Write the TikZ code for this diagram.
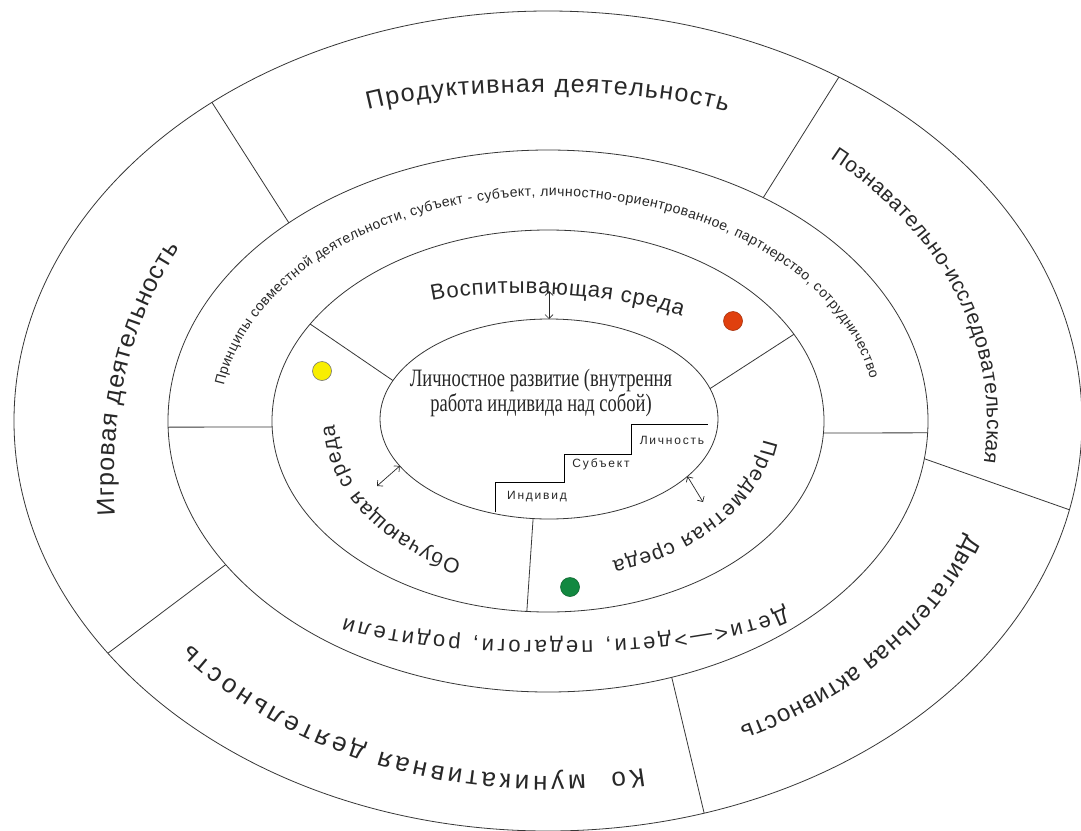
\documentclass[tikz,border=0pt]{standalone}
\usepackage{fontspec}
\setmainfont{Liberation Sans}
\newfontfamily\condserif[FakeStretch=0.74]{Liberation Serif}
\usetikzlibrary{calc,decorations.text,arrows.meta}
\definecolor{ink}{RGB}{40,40,40}
\definecolor{linec}{RGB}{55,55,55}
\definecolor{dotyellow}{RGB}{248,238,0}
\definecolor{dotred}{RGB}{224,64,14}
\definecolor{dotgreen}{RGB}{18,136,64}
\begin{document}
\begin{tikzpicture}[x=1pt,y=-1pt,
  ring/.style={draw=linec,line width=0.8pt},
  divider/.style={draw=linec,line width=0.8pt},
  alongtext/.style={decorate,decoration={text along path,text align={fit to path},text color=ink,text={#1}}},
  twoway/.style={draw=ink,line width=0.7pt,{Straight Barb[length=4pt,width=8pt]}-{Straight Barb[length=4pt,width=8pt]}},
  dot/.style={circle,minimum size=19pt,inner sep=0pt,line width=0.6pt},
  stair/.style={draw=black,line width=0.8pt},
  steplabel/.style={font=\fontsize{12}{14}\selectfont\addfontfeature{LetterSpace=15},text=ink},
]
\useasboundingbox (0,0) rectangle (1081,830);
\fill[white] (0,0) rectangle (1081,830);

\coordinate (C) at (548,421);
\coordinate (Ci) at (549,419);

% rings
\draw[ring] (C) ellipse [x radius=534, y radius=410];
\draw[ring] (C) ellipse [x radius=380, y radius=271];
\draw[ring] (C) ellipse [x radius=276, y radius=191];
\draw[ring] (Ci) ellipse [x radius=169, y radius=100];

% divider points
\coordinate (oTL) at ($(C)+(231:534 and 410)$);
\coordinate (mTL) at ($(C)+(227:380 and 271)$);
\coordinate (oTR) at ($(C)+(303:534 and 410)$);
\coordinate (mTR) at ($(C)+(304.5:380 and 271)$);
\coordinate (oR) at ($(C)+(12.5:534 and 410)$);
\coordinate (mR) at ($(C)+(8:380 and 271)$);
\coordinate (oBR) at ($(C)+(73:534 and 410)$);
\coordinate (mBR) at ($(C)+(71:380 and 271)$);
\coordinate (oBL) at ($(C)+(145.5:534 and 410)$);
\coordinate (mBL) at ($(C)+(148:380 and 271)$);
\coordinate (mL) at ($(C)+(178.7:380 and 271)$);
\coordinate (rL) at ($(C)+(178.2:276 and 191)$);
\coordinate (mRh) at ($(C)+(2.5:380 and 271)$);
\coordinate (rRh) at ($(C)+(3.6:276 and 191)$);
\coordinate (rUL) at ($(C)+(210.5:276 and 191)$);
\coordinate (iUL) at ($(Ci)+(202.6:169 and 100)$);
\coordinate (rUR) at ($(C)+(333:276 and 191)$);
\coordinate (iUR) at ($(Ci)+(342.3:169 and 100)$);
\coordinate (rB) at ($(C)+(94.4:276 and 191)$);
\coordinate (iB) at ($(Ci)+(95.4:169 and 100)$);

\draw[divider] (oTL) -- (mTL);
\draw[divider] (oTR) -- (mTR);
\draw[divider] (oR) -- (mR);
\draw[divider] (oBR) -- (mBR);
\draw[divider] (oBL) -- (mBL);
\draw[divider] (mL) -- (rL);
\draw[divider] (mRh) -- (rRh);
\draw[divider] (rUL) -- (iUL);
\draw[divider] (rUR) -- (iUR);
\draw[divider] (rB) -- (iB);

% outer ring texts
\path[alongtext={|\fontsize{25}{30}\selectfont|Продуктивная деятельность}] (368,110) .. controls (460,86) and (640,86) .. (727,112);
\path[alongtext={|\fontsize{21}{25}\selectfont|Познавательно-исследовательская}] ($(C)+(310:439 and 342)$) arc[start angle=310,end angle=367,x radius=439,y radius=342];
\path[alongtext={|\fontsize{24}{28}\selectfont|Двигательная активность}] ($(C)+(19.5:445 and 339)$) arc[start angle=19.5,end angle=64.5,x radius=445,y radius=339];
\path[alongtext={|\fontsize{26}{30}\selectfont|Ко{\hspace{18pt}}муникативная деятельность}] ($(C)+(78:460 and 355)$) arc[start angle=78,end angle=141,x radius=460,y radius=355];
\path[alongtext={|\fontsize{25}{30}\selectfont|Игровая деятельность}] (115,515) .. controls (108,420) and (130,320) .. (180,248);

% middle ring texts
\path[alongtext={|\fontsize{14}{16}\selectfont|Принципы совместной деятельности, субъект - субъект, личностно-ориентрованное, партнерство, сотрудничество}] ($(C)+(189:328 and 225)$) arc[start angle=189,end angle=349,x radius=328,y radius=225];
\path[alongtext={|\fontsize{22}{26}\selectfont|Дети<—>дети, педагоги, родители}] (785,607) .. controls (700,650) and (450,650) .. (345,618);

% inner ring texts
\path[alongtext={|\fontsize{22}{26}\selectfont|Воспитывающая среда}] (432,301) .. controls (480,290) and (600,288) .. (682,316);
\path[alongtext={|\fontsize{21}{25}\selectfont|Предметная среда}] ($(Ci)+(8:216.6 and 148.5)$) arc[start angle=8,end angle=73,x radius=216.6,y radius=148.5];
\path[alongtext={|\fontsize{21}{25}\selectfont|Обучающая среда}] ($(Ci)+(114:214.6 and 155.7)$) arc[start angle=114,end angle=178,x radius=214.6,y radius=155.7];

% centre
\node[font=\condserif\fontsize{25}{23}\selectfont,align=center,text=black!85,inner sep=0pt] (title) at (541,393) {Личностное развитие (внутрення\\работа индивида над собой)};

\coordinate (s0) at (495,512);
\coordinate (s1) at (564,482);
\coordinate (s2) at (631,454);
\coordinate (s3) at (708,424);
\draw[stair] (s0) |- (s1) |- (s2) |- (s3);
\node[steplabel] (lind) at (537,497) {Индивид};
\node[steplabel] (lsub) at (601,464) {Субъект};
\node[steplabel] (lper) at (672,440) {Личность};

% arrows
\coordinate (at1) at (549,291);
\coordinate (at2) at ($(Ci)+(270:169 and 100)$);
\draw[twoway] (at1) -- (at2);
\coordinate (al1) at ($(Ci)+(152:169 and 100)$);
\coordinate (al2) at (377,486);
\draw[twoway] (al1) -- (al2);
\coordinate (ar1) at ($(Ci)+(35:169 and 100)$);
\coordinate (ar2) at (703,502);
\draw[twoway] (ar1) -- (ar2);

% dots
\node[dot,fill=dotyellow,draw=black!55] (yellowdot) at (322,371) {};
\node[dot,fill=dotred,draw=dotred!75!black] (reddot) at (733,321) {};
\node[dot,fill=dotgreen,draw=dotgreen!75!black] (greendot) at (570,587) {};
\end{tikzpicture}
\end{document}
